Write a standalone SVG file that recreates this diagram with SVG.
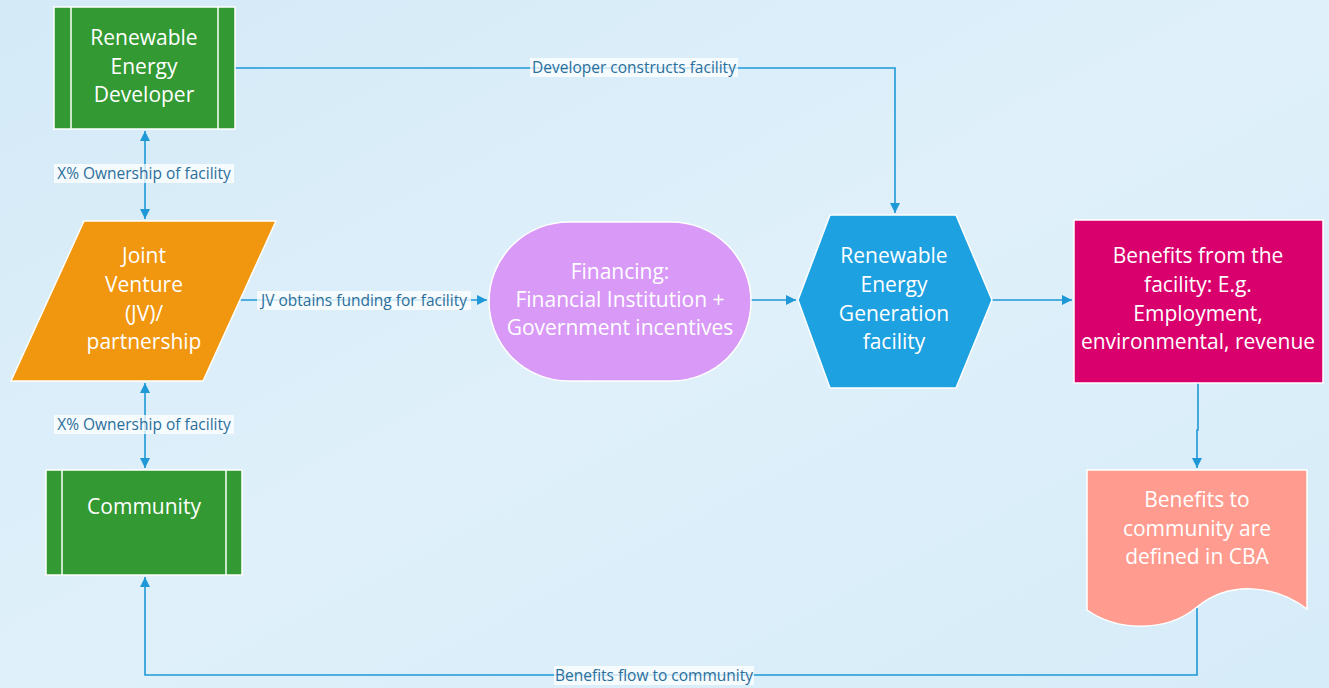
<svg xmlns="http://www.w3.org/2000/svg" width="1329" height="688" viewBox="0 0 1329 688">
<defs>
<linearGradient id="bg" x1="0" y1="0" x2="1" y2="1">
<stop offset="0" stop-color="#d4eaf7"/>
<stop offset="0.5" stop-color="#dff0fa"/>
<stop offset="1" stop-color="#d6ecf8"/>
</linearGradient>
<marker id="ah" viewBox="0 0 10 10" refX="10" refY="5" markerWidth="10" markerHeight="10" markerUnits="userSpaceOnUse" orient="auto-start-reverse">
<path d="M0,0 L10,5 L0,10 Z" fill="#1e98d6"/>
</marker>
<style>
.n{font-family:"Open Sans","Noto Sans",sans-serif;font-size:21px;fill:#ffffff;text-anchor:middle}
.l{font-family:"Open Sans","Noto Sans",sans-serif;font-size:15.5px;fill:#2a6f9c;text-anchor:middle}
.lb{fill:#ffffff;fill-opacity:0.75}
.c{fill:none;stroke:#1e98d6;stroke-width:1.6}
.sw{stroke:#ffffff;stroke-width:1.5}
</style>
</defs>
<rect width="1329" height="688" fill="url(#bg)"/>

<g id="connectors">
<path class="c" d="M235,68 H895 V213" marker-end="url(#ah)"/>
<path class="c" d="M145,131 V219" marker-start="url(#ah)" marker-end="url(#ah)"/>
<path class="c" d="M145,383 V468" marker-start="url(#ah)" marker-end="url(#ah)"/>
<path class="c" d="M240,300 H487" marker-end="url(#ah)"/>
<path class="c" d="M751,300 H796" marker-end="url(#ah)"/>
<path class="c" d="M992,300 H1072" marker-end="url(#ah)"/>
<path class="c" d="M1198,383 V430 H1197 V468" marker-end="url(#ah)"/>
<path class="c" d="M1197,608 V675 H145 V577" marker-end="url(#ah)"/>
<rect class="lb" x="530" y="58" width="208" height="19"/>
<text class="l" x="634" y="73">Developer constructs facility</text>
<rect class="lb" x="54" y="164" width="180" height="19"/>
<text class="l" x="144" y="179">X% Ownership of facility</text>
<rect class="lb" x="54" y="415" width="180" height="19"/>
<text class="l" x="144" y="430">X% Ownership of facility</text>
<rect class="lb" x="257" y="291" width="214" height="19"/>
<text class="l" x="364" y="306">JV obtains funding for facility</text>
<rect class="lb" x="554" y="666" width="200" height="19"/>
<text class="l" x="654" y="681">Benefits flow to community</text>
</g>

<g id="developer">
<rect x="54" y="7" width="181" height="122" fill="#339933" class="sw"/>
<line x1="71" y1="7" x2="71" y2="129" class="sw"/>
<line x1="218" y1="7" x2="218" y2="129" class="sw"/>
<text class="n" x="144" y="45">Renewable</text>
<text class="n" x="144" y="74">Energy</text>
<text class="n" x="144" y="102">Developer</text>
</g>

<g id="jv">
<polygon points="84,221 276,221 203,381 11,381" fill="#f0960f" class="sw"/>
<text class="n" x="144" y="263">Joint</text>
<text class="n" x="144" y="292">Venture</text>
<text class="n" x="144" y="321">(JV)/</text>
<text class="n" x="144" y="349">partnership</text>
</g>

<g id="community">
<rect x="46" y="470" width="196" height="105" fill="#339933" class="sw"/>
<line x1="62" y1="470" x2="62" y2="575" class="sw"/>
<line x1="226" y1="470" x2="226" y2="575" class="sw"/>
<text class="n" x="144" y="514">Community</text>
</g>

<g id="financing">
<rect x="489" y="222" width="262" height="159" rx="79.5" ry="79.5" fill="#d899f7" class="sw"/>
<text class="n" x="620" y="279">Financing:</text>
<text class="n" x="620" y="307">Financial Institution +</text>
<text class="n" x="620" y="335">Government incentives</text>
</g>

<g id="facility">
<polygon points="830,215 956,215 992,300 956,388 830,388 798,300" fill="#1ea1e0" class="sw"/>
<text class="n" x="894" y="263">Renewable</text>
<text class="n" x="894" y="292">Energy</text>
<text class="n" x="894" y="321">Generation</text>
<text class="n" x="894" y="349">facility</text>
</g>

<g id="benefits">
<rect x="1074" y="220" width="249" height="163" fill="#d9006e" class="sw"/>
<text class="n" x="1198" y="263">Benefits from the</text>
<text class="n" x="1198" y="292">facility: E.g.</text>
<text class="n" x="1198" y="321">Employment,</text>
<text class="n" x="1198" y="349">environmental, revenue</text>
</g>

<g id="cba">
<path d="M1087,470 H1307 V609 C1275,585 1230,580 1197,607 C1165,634 1115,630 1087,610 Z" fill="#ff9c8f" class="sw"/>
<text class="n" x="1197" y="507">Benefits to</text>
<text class="n" x="1197" y="536">community are</text>
<text class="n" x="1197" y="564">defined in CBA</text>
</g>
</svg>
